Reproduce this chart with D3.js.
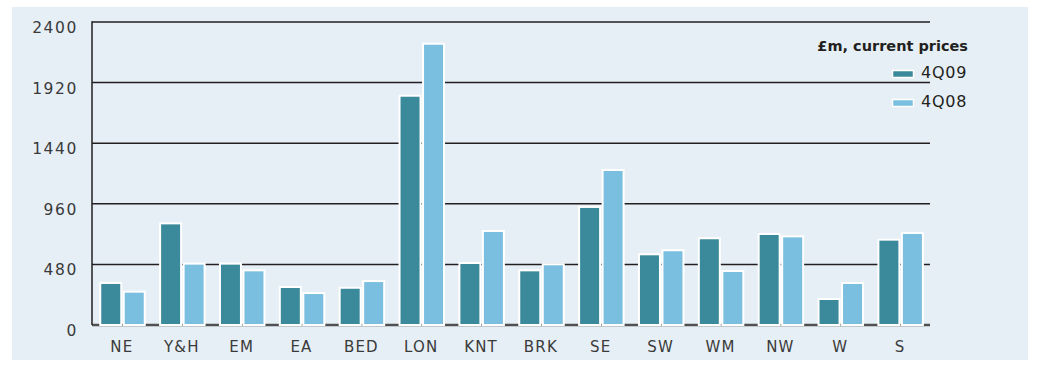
<!DOCTYPE html>
<html><head><meta charset="utf-8">
<script src="https://cdn.jsdelivr.net/npm/d3@7"></script>
<style>body{margin:0;background:#fff} svg{display:block}</style>
</head><body><svg id="c" width="1040" height="367"></svg>
<script>
const categories = ["NE","Y&H","EM","EA","BED","LON","KNT","BRK","SE","SW","WM","NW","W","S"];
const values4Q09 = [333,805,486,301,295,1816,491,433,935,560,687,721,206,676];
const values4Q08 = [264,486,433,253,348,2228,745,481,1228,592,428,702,333,729];
const seriesNames = ["4Q09","4Q08"];
const seriesColors = ["#3b8a9c","#7bbfe0"];
const yTicks = [0,480,960,1440,1920,2400];
const legendTitle = "£m, current prices";

const seriesValues = [values4Q09, values4Q08];
const svg = d3.select("#c");
const font = "'DejaVu Sans', Verdana, sans-serif";

svg.append("rect").attr("x",12).attr("y",7).attr("width",1016).attr("height",353).attr("fill","#e6eff5");

const x0 = d3.scaleBand().domain(categories).range([92,930]);
const x1 = d3.scaleBand().domain(seriesNames).range([7,54]);
const y = d3.scaleLinear().domain([0,2400]).range([325,22]);

// gridlines
svg.append("g").selectAll("line").data(yTicks.filter(t=>t>0)).join("line")
  .attr("x1",92).attr("x2",930).attr("y1",d=>y(d)).attr("y2",d=>y(d))
  .attr("stroke","#231f20").attr("stroke-width",1.5);
svg.append("line").attr("x1",92).attr("x2",930).attr("y1",y(0)).attr("y2",y(0))
  .attr("stroke","#505052").attr("stroke-width",2.5);
svg.append("line").attr("x1",92).attr("x2",92).attr("y1",y(2400)-0.75).attr("y2",y(0))
  .attr("stroke","#231f20").attr("stroke-width",1.5);

// y tick labels
svg.append("g").selectAll("text").data(yTicks).join("text")
  .attr("x",78).attr("y",d=>y(d)+11).attr("text-anchor","end")
  .attr("font-family",font).attr("font-size",15.5).attr("letter-spacing",1.6)
  .attr("fill","#3a3a3a").text(d=>d);

// bars
const barW = 21;
const data = [];
categories.forEach((c,i)=>seriesNames.forEach((s,j)=>data.push({c,s,j,v:seriesValues[j][i]})));
svg.append("g").selectAll("rect").data(data).join("rect")
  .attr("x",d=>x0(d.c)+x1(d.s)+(x1.bandwidth()-barW)/2)
  .attr("width",barW)
  .attr("y",d=>y(d.v))
  .attr("height",d=>y(0)-y(d.v))
  .attr("fill",d=>seriesColors[d.j])
  .attr("stroke","#fff").attr("stroke-width",2);

// category labels
svg.append("g").selectAll("text").data(categories).join("text")
  .attr("x",d=>x0(d)+x0.bandwidth()/2).attr("y",352).attr("text-anchor","middle")
  .attr("font-family",font).attr("font-size",15).attr("letter-spacing",1.2)
  .attr("fill","#3a3a3a").text(d=>d);

// legend
svg.append("text").attr("x",968).attr("y",51).attr("text-anchor","end")
  .attr("font-family",font).attr("font-size",14.5).attr("font-weight","bold")
  .attr("fill","#231f20").text(legendTitle);
const lg = svg.append("g").selectAll("g").data(seriesNames).join("g")
  .attr("transform",(d,i)=>`translate(0,${i*29})`);
lg.append("rect").attr("x",892.5).attr("y",70.5).attr("width",21).attr("height",7)
  .attr("fill",(d,i)=>seriesColors[i]).attr("stroke","#fff").attr("stroke-width",1.5);
lg.append("text").attr("x",921).attr("y",78.3).attr("letter-spacing",0.8)
  .attr("font-family",font).attr("font-size",16).attr("fill","#231f20").text(d=>d);
</script></body></html>
